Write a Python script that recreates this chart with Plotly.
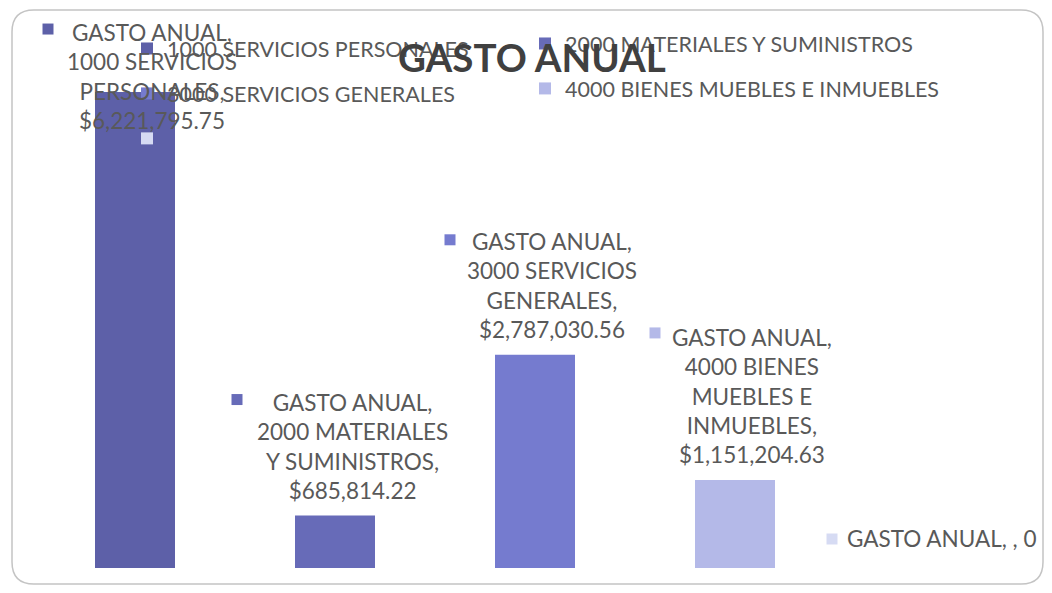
import plotly.graph_objects as go

# ---- data ----
categories = ["1000 SERVICIOS PERSONALES", "2000 MATERIALES Y SUMINISTROS",
              "3000 SERVICIOS GENERALES", "4000 BIENES MUEBLES E INMUEBLES", " "]
values = [6221795.75, 685814.22, 2787030.56, 1151204.63, 0]
series_name = "GASTO ANUAL"
# category text as wrapped in the data labels
label_cat_lines = [["1000 SERVICIOS", "PERSONALES,"],
                   ["2000 MATERIALES", "Y SUMINISTROS,"],
                   ["3000 SERVICIOS", "GENERALES,"],
                   ["4000 BIENES", "MUEBLES E", "INMUEBLES,"],
                   []]

# ---- styles ----
colors = ["#5d60a8", "#676bb8", "#757bcf", "#b4b9e8", "#d6dbf3"]
legend_id = ["legend", "legend2", "legend", "legend2", "legend"]
label_yshift = [-44, 10, 10, 10, 14]
label_xshift = [17, 17, 17, 17, 6]
marker_dx = [-87, -98, -85, -80, -103]
marker_dy = [63, 116, 115, 147, 29]
TXT = "#595959"
FONT = "Lato"
OFF = 8                      # browser body margin
W, H = 1052 - 2 * OFF, 593 - 2 * OFF


def px(x):   # page x -> paper
    return (x - OFF) / W


def py(y):   # page y -> paper
    return 1 - (y - OFF) / H


fig = go.Figure()
for i, (c, v) in enumerate(zip(categories, values)):
    fig.add_trace(go.Bar(
        x=[c], y=[v], name=c, marker=dict(color=colors[i], line=dict(width=0)),
        width=0.4, legendgroup=f"g{i}", legend=legend_id[i], hoverinfo="skip",
    ))


def label_text(i):
    v = values[i]
    vtxt = f"${v:,.2f}" if v else "0"
    if label_cat_lines[i]:
        return "<br>".join([series_name + ","] + label_cat_lines[i] + [vtxt])
    return f"{series_name}, , {vtxt}"


annotations = []
shapes = []
for i, c in enumerate(categories):
    annotations.append(dict(
        x=c, y=values[i], xref="x", yref="y", text=label_text(i), showarrow=False,
        xanchor="center", yanchor="bottom", align="center", xshift=label_xshift[i],
        yshift=label_yshift[i], font=dict(family=FONT, size=22.5, color=TXT),
    ))
    shapes.append(dict(
        type="rect", xref="x", yref="y", xsizemode="pixel", ysizemode="pixel",
        xanchor=i, yanchor=values[i],
        x0=marker_dx[i] - 5.5, x1=marker_dx[i] + 5.5,
        y0=marker_dy[i] - 5.5, y1=marker_dy[i] + 5.5,
        fillcolor=colors[i], line=dict(width=0),
    ))

# title
annotations.append(dict(
    x=px(532), y=py(57), xref="paper", yref="paper", text="<b>GASTO ANUAL</b>",
    showarrow=False, xanchor="center", yanchor="middle",
    font=dict(family=FONT, size=38.5, color="#404040"),
))

# chart border (rounded)
x0, x1 = px(12), px(1043)
yt, yb = py(10), py(584)
rx, ry = 22 / W, 22 / H
path = (f"M {x0+rx},{yt} L {x1-rx},{yt} Q {x1},{yt} {x1},{yt-ry} "
        f"L {x1},{yb+ry} Q {x1},{yb} {x1-rx},{yb} L {x0+rx},{yb} "
        f"Q {x0},{yb} {x0},{yb+ry} L {x0},{yt-ry} Q {x0},{yt} {x0+rx},{yt} Z")
shapes.append(dict(type="path", path=path, xref="paper", yref="paper",
                   line=dict(color="#c4c4c4", width=1.5), layer="below"))

legend_common = dict(
    orientation="v", bgcolor="rgba(0,0,0,0)", borderwidth=0,
    font=dict(family=FONT, size=21.5, color=TXT), tracegroupgap=14,
    yanchor="top", xanchor="left", itemclick=False, itemdoubleclick=False,
)

baseline = 568        # page px of zero line
px_per_unit = 76.5e-6  # page px per peso
fig.update_layout(
    width=W, height=H, margin=dict(l=0, r=0, t=0, b=0),
    paper_bgcolor="white", plot_bgcolor="rgba(0,0,0,0)",
    showlegend=True,
    legend=dict(x=119 / W, y=1 - 20 / H, **legend_common),
    legend2=dict(x=517 / W, y=1 - 15 / H, **legend_common),
    xaxis=dict(domain=[0, 1], range=[-(135 - OFF) / 200, -(135 - OFF) / 200 + W / 200],
               visible=False, type="category", categoryorder="array",
               categoryarray=categories),
    yaxis=dict(domain=[py(baseline), 1], range=[0, (baseline - OFF) / px_per_unit],
               visible=False),
    annotations=annotations, shapes=shapes,
    font=dict(family=FONT, color=TXT),
)

fig.write_html("out.html")
